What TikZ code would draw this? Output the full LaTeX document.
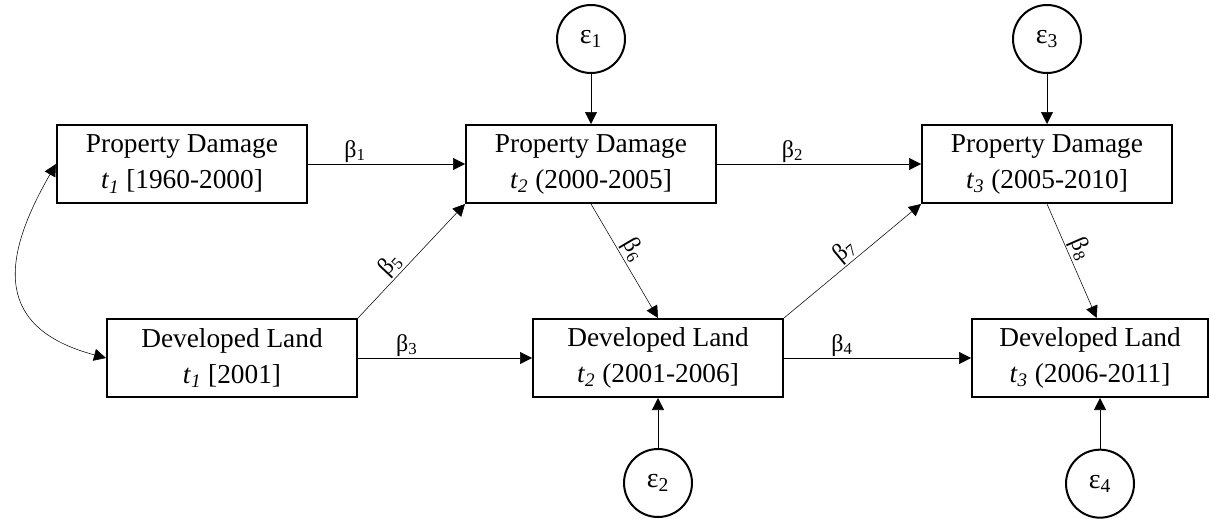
\documentclass[tikz,border=0pt]{standalone}
\usepackage{fontspec}
\setmainfont{Liberation Serif}
\usetikzlibrary{positioning,arrows.meta}
\tikzset{
->,
>={Triangle[length=9pt,width=9pt]},
line width=0.75pt,
box/.style={draw, line width=1.5pt, minimum width=187.5pt, minimum height=58.5pt, align=center, font=\fontsize{20.5}{27}\selectfont},
err/.style={draw, circle, line width=1.5pt, minimum size=51pt, inner sep=0pt, font=\fontsize{21}{24}\selectfont},
coef/.style={font=\fontsize{18}{20}\selectfont, inner sep=1pt},
}

\begin{document}
\begin{tikzpicture}[x=0.75pt,y=-0.75pt]
    \useasboundingbox (0,0) rectangle (1210,518);

    \node[box] (pd1) at (182,164) {Property Damage\\\textit{t}\textsubscript{\textit{1}} [1960-2000]};
    \node[box] (pd2) at (591,164) {Property Damage\\\textit{t}\textsubscript{\textit{2}} (2000-2005]};
    \node[box] (pd3) at (1047,164) {Property Damage\\\textit{t}\textsubscript{\textit{3}} (2005-2010]};
    \node[box] (dl1) at (232,358) {Developed Land\\\textit{t}\textsubscript{\textit{1}} [2001]};
    \node[box] (dl2) at (658,358) {Developed Land\\\textit{t}\textsubscript{\textit{2}} (2001-2006]};
    \node[box,minimum width=177pt] (dl3) at (1090,358) {Developed Land\\\textit{t}\textsubscript{\textit{3}} (2006-2011]};

    \node[err,above=37.5pt of pd2] (e1) {ε\textsubscript{1}};
    \node[err,above=37.5pt of pd3] (e3) {ε\textsubscript{3}};
    \node[err,below=37.5pt of dl2] (e2) {ε\textsubscript{2}};
    \node[err,below=38pt of dl3,xshift=7.5pt] (e4) {ε\textsubscript{4}};

    \draw (e1) -- (pd2);
    \draw (e3) -- (pd3);
    \draw (e2) -- (dl2);
    \draw (e4) -- (e4 |- dl3.south);

    \draw (pd1) -- node[coef,above,pos=.3]{β\textsubscript{1}} (pd2);
    \draw (pd2) -- node[coef,above,pos=.37]{β\textsubscript{2}} (pd3);
    \draw (dl1) -- node[coef,above,pos=.28]{β\textsubscript{3}} (dl2);
    \draw (dl2) -- node[coef,above,pos=.31]{β\textsubscript{4}} (dl3);
    \draw (dl1.north east) -- node[coef,above,sloped,pos=.39]{β\textsubscript{5}} (pd2.south west);
    \draw (pd2.south) -- node[coef,above,sloped,pos=.46]{β\textsubscript{6}} (dl2.north);
    \draw (dl2.north east) -- node[coef,above,sloped,pos=.5]{β\textsubscript{7}} (pd3.south west);
    \draw (pd3.south) -- node[coef,above,sloped,pos=.44]{β\textsubscript{8}} ([xshift=5pt]dl3.north);
    \draw[<->] (pd1.west) to[out=240,in=165,looseness=1.45] (dl1.west);

     \end{tikzpicture}
\end{document}
